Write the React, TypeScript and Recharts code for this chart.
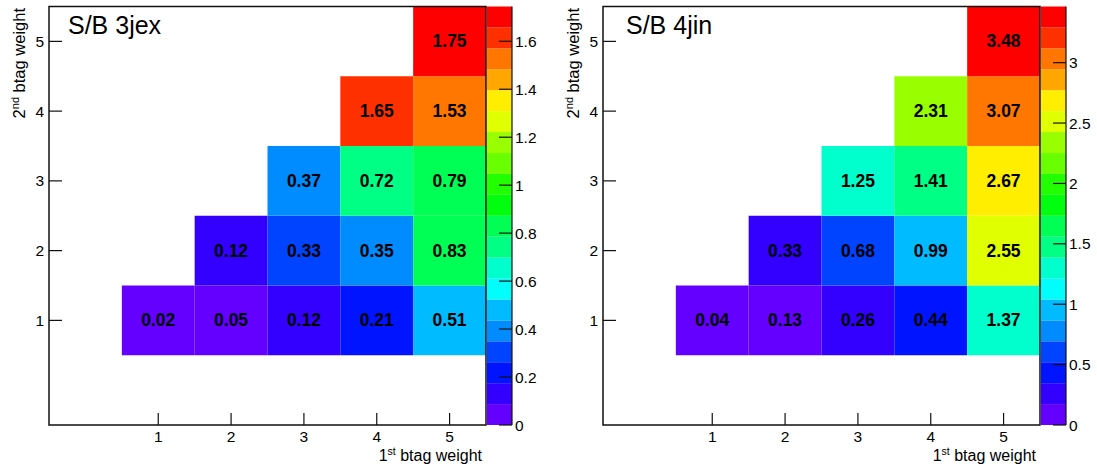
import React from 'react';
import { ComposedChart, XAxis, YAxis, ReferenceArea } from 'recharts';

// ---------------- data ----------------
const binCenters = [1, 2, 3, 4, 5]; // bin centres on both axes
const axisTickValues = [1, 2, 3, 4, 5];

// rows: 2nd btag weight = 1..5 ; columns: 1st btag weight = 1..5
const sb3jex: (number | null)[][] = [
  [0.02, 0.05, 0.12, 0.21, 0.51],
  [null, 0.12, 0.33, 0.35, 0.83],
  [null, null, 0.37, 0.72, 0.79],
  [null, null, null, 1.65, 1.53],
  [null, null, null, null, 1.75],
];
const sb4jin: (number | null)[][] = [
  [0.04, 0.13, 0.26, 0.44, 1.37],
  [null, 0.33, 0.68, 0.99, 2.55],
  [null, null, 1.25, 1.41, 2.67],
  [null, null, null, 2.31, 3.07],
  [null, null, null, null, 3.48],
];
const zMax3jex = 1.745;
const zMax4jin = 3.465;
const cbTicks3jex = [0, 0.2, 0.4, 0.6, 0.8, 1, 1.2, 1.4, 1.6];
const cbTicks4jin = [0, 0.5, 1, 1.5, 2, 2.5, 3];
const titles = ['S/B 3jex', 'S/B 4jin'];

// ROOT "pretty" palette, 20 contour levels
const palette = [
  '#6300FF', '#3300FF', '#0014FF', '#0044FF', '#008BFF',
  '#00BBFF', '#00FFFC', '#00FFCC', '#00FF85', '#00FF55',
  '#00FF0E', '#22FF00', '#69FF00', '#99FF00', '#E0FF00',
  '#FFEE00', '#FFA700', '#FF7700', '#FF3000', '#FF0000',
];

// ---------------- helpers ----------------
const FONT = '"Liberation Sans", Arial, Helvetica, sans-serif';
const INK = '#111';
const nLevels = palette.length;

const colorFor = (v: number, zMax: number) => {
  let k = Math.floor(0.0001 + (v / zMax) * nLevels);
  if (k > nLevels - 1) k = nLevels - 1;
  if (k < 0) k = 0;
  return palette[k];
};

const XTick = (props: any) => {
  const { x, y, payload } = props;
  return (
    <g>
      <line x1={x} x2={x} y1={y} y2={y - 12} stroke={INK} strokeWidth={1.2} />
      <text x={x} y={y + 16.5} textAnchor="middle" fontSize={15.5} fill="#000" fontFamily={FONT}>
        {payload.value}
      </text>
    </g>
  );
};

const YTick = (props: any) => {
  const { x, y, payload } = props;
  return (
    <g>
      <line x1={x} x2={x + 13} y1={y} y2={y} stroke={INK} strokeWidth={1.2} />
      <text x={x - 5} y={y + 5.5} textAnchor="end" fontSize={15.5} fill="#000" fontFamily={FONT}>
        {payload.value}
      </text>
    </g>
  );
};

const CbTick = (props: any) => {
  const { x, y, payload } = props;
  return (
    <g>
      <line x1={x - 13} x2={x} y1={y} y2={y} stroke={INK} strokeWidth={1.2} />
      <text x={x + 3} y={y + 5.5} textAnchor="start" fontSize={15.5} fill="#000" fontFamily={FONT}>
        {payload.value}
      </text>
    </g>
  );
};

type PanelProps = {
  left: number;
  title: string;
  titleX: number;
  matrix: (number | null)[][];
  zMax: number;
  cbTicks: number[];
};

const Panel = ({ left, title, titleX, matrix, zMax, cbTicks }: PanelProps) => {
  const cells: { x: number; y: number; v: number }[] = [];
  matrix.forEach((row, iy) =>
    row.forEach((v, ix) => {
      if (v !== null) cells.push({ x: binCenters[ix], y: binCenters[iy], v });
    })
  );

  const xTitle = (p: any) => {
    const vb = p.viewBox || { x: 49, width: 436 };
    return (
      <text x={vb.x + vb.width - 4} y={461} textAnchor="end" fontSize={16} fill="#000" fontFamily={FONT}>
        <tspan>1</tspan>
        <tspan dy={-6} fontSize={10.5}>st</tspan>
        <tspan dy={6}> btag weight</tspan>
      </text>
    );
  };

  const yTitle = () => (
    <g>
      <text
        x={24.5}
        y={8}
        transform="rotate(-90, 24.5, 8)"
        textAnchor="end"
        fontSize={16.5}
        fill="#000"
        fontFamily={FONT}
      >
        <tspan>2</tspan>
        <tspan dy={-6} fontSize={11}>nd</tspan>
        <tspan dy={6}> btag weight</tspan>
      </text>
      <text x={titleX} y={33.5} fontSize={25} fill="#000" fontFamily={FONT}>
        {title}
      </text>
    </g>
  );

  const levelBands = palette.map((c, i) => ({ c, lo: (i * zMax) / nLevels, hi: ((i + 1) * zMax) / nLevels }));

  return (
    <>
      <div style={{ position: 'absolute', left, top: 0 }}>
        <ComposedChart width={488} height={469} margin={{ top: 6.5, right: 2, bottom: 0, left: 0 }}>
          <XAxis
            type="number"
            dataKey="x"
            domain={[-0.5, 5.5]}
            ticks={axisTickValues}
            interval={0}
            allowDataOverflow
            height={44}
            tickSize={0}
            tickMargin={0}
            tickLine={false}
            axisLine={false}
            tick={XTick}
            label={{ content: xTitle }}
          />
          <YAxis
            type="number"
            dataKey="y"
            domain={[-0.5, 5.5]}
            ticks={axisTickValues}
            interval={0}
            allowDataOverflow
            width={49}
            tickSize={0}
            tickMargin={0}
            tickLine={false}
            axisLine={false}
            tick={YTick}
            label={{ content: yTitle }}
          />
          {cells.map((c) => (
            <ReferenceArea
              key={`${c.x}-${c.y}`}
              x1={c.x - 0.5}
              x2={c.x + 0.5}
              y1={c.y - 0.5}
              y2={c.y + 0.5}
              fill={colorFor(c.v, zMax)}
              fillOpacity={1}
              stroke="none"
              ifOverflow="visible"
              label={{
                content: (p: any) => {
                  const vb = p.viewBox;
                  return (
                    <text
                      x={vb.x + vb.width / 2}
                      y={vb.y + vb.height / 2 + 6}
                      textAnchor="middle"
                      fontSize={17.5}
                      fontWeight="bold"
                      fill="#000"
                      fontFamily={FONT}
                    >
                      {c.v.toFixed(2)}
                    </text>
                  );
                },
              }}
            />
          ))}
          <ReferenceArea
            x1={-0.5}
            x2={5.5}
            y1={-0.5}
            y2={5.5}
            fill="none"
            fillOpacity={0}
            stroke={INK}
            strokeWidth={1.5}
            ifOverflow="visible"
          />
        </ComposedChart>
      </div>
      <div style={{ position: 'absolute', left: left + 487, top: 0 }}>
        <ComposedChart width={60} height={469} margin={{ top: 6.5, right: 0, bottom: 44, left: 0 }}>
          <XAxis
            type="number"
            dataKey="x"
            domain={[0, 1]}
            allowDataOverflow
            hide
          />
          {levelBands.map((b, i) => (
            <ReferenceArea
              key={i}
              x1={0}
              x2={1}
              y1={b.lo}
              y2={b.hi}
              fill={b.c}
              fillOpacity={1}
              stroke="none"
              ifOverflow="visible"
            />
          ))}
          <YAxis
            type="number"
            dataKey="z"
            orientation="right"
            domain={[0, zMax]}
            ticks={cbTicks}
            interval={0}
            allowDataOverflow
            width={35}
            tickSize={0}
            tickMargin={0}
            tickLine={false}
            axisLine={{ stroke: INK, strokeWidth: 1.2 }}
            tick={CbTick}
          />
        </ComposedChart>
      </div>
    </>
  );
};

export default function App() {
  return (
    <div
      style={{
        position: 'absolute',
        left: 0,
        top: 0,
        width: 1097,
        height: 469,
        background: '#fff',
        fontFamily: FONT,
      }}
    >
      <Panel left={0} title={titles[0]} titleX={68} matrix={sb3jex} zMax={zMax3jex} cbTicks={cbTicks3jex} />
      <Panel left={554} title={titles[1]} titleX={72} matrix={sb4jin} zMax={zMax4jin} cbTicks={cbTicks4jin} />
    </div>
  );
}
